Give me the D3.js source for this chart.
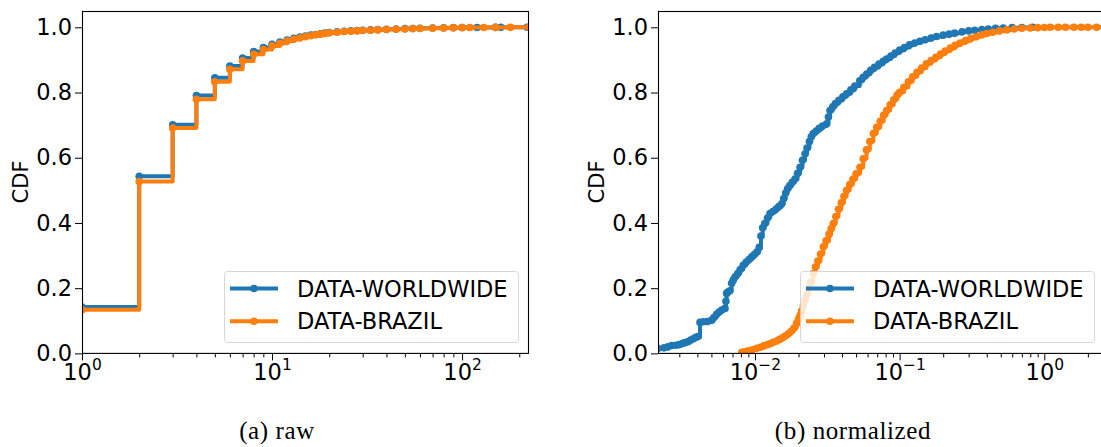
<!DOCTYPE html>
<html><head><meta charset="utf-8">
<script src="https://cdn.jsdelivr.net/npm/d3@7"></script>
<style>body{margin:0;background:#fff}svg{display:block}</style>
</head><body>
<svg id="c" width="1101" height="447"></svg>
<script>
// ---------- data ----------
const seriesNames = ["DATA-WORLDWIDE", "DATA-BRAZIL"];
const seriesColors = ["#1f77b4", "#ff7f0e"];

// (a) raw
const rawWorldX = [1,2,3,4,5,6,7,8,9,10,11,12,13,14,15,16,17,18,19,20,22,24,26,28,30,33,36,40,45,50,55,60,70,80,90,100,120,150,160,220];
const rawWorldY = [0.142,0.543,0.701,0.791,0.845,0.881,0.906,0.926,0.938,0.948,0.955,0.961,0.966,0.970,0.973,0.976,0.978,0.980,0.982,0.984,0.986,0.988,0.989,0.990,0.991,0.992,0.993,0.994,0.995,0.996,0.9965,0.997,0.998,0.9985,0.999,0.9993,0.9995,0.9997,0.9998,1.0];
const rawBrazilX = [1,2,3,4,5,6,7,8,9,10,11,12,13,14,15,16,17,18,19,20,22,24,26,28,30,33,36,40,45,50,55,60,70,80,90,100,110,130,150,180,225];
const rawBrazilY = [0.134,0.527,0.691,0.779,0.833,0.871,0.897,0.917,0.932,0.943,0.951,0.958,0.963,0.967,0.971,0.974,0.977,0.979,0.981,0.983,0.985,0.987,0.988,0.989,0.990,0.991,0.992,0.993,0.994,0.995,0.996,0.9965,0.997,0.998,0.9985,0.999,0.9993,0.9995,0.9997,0.9998,1.0];

// (b) normalized
const normWorldX = [0.00213,0.00235,0.0025,0.00266,0.00285,0.003,0.00315,0.00328,0.00345,0.0036,0.00375,0.0039,0.00405,0.00417,0.0044,0.0047,0.00502,0.0052,0.00543,0.00565,0.0059,0.00621,0.0063,0.00637,0.0065,0.0067,0.0069,0.00708,0.0073,0.0076,0.0079,0.0083,0.0087,0.0091,0.0095,0.0099,0.0103,0.0107,0.011,0.0113,0.0117,0.0122,0.0127,0.0133,0.014,0.0146,0.0153,0.0158,0.0163,0.0168,0.0174,0.0181,0.0189,0.0197,0.0205,0.0213,0.0222,0.0229,0.0238,0.0245,0.0253,0.0265,0.0278,0.0293,0.0313,0.0322,0.033,0.0345,0.036,0.038,0.0405,0.043,0.046,0.049,0.053,0.056,0.0592,0.063,0.067,0.072,0.077,0.0813,0.087,0.093,0.1,0.108,0.117,0.127,0.138,0.15,0.165,0.18,0.2,0.22,0.24,0.27,0.3,0.33,0.37,0.41,0.46,0.52,0.6,0.7,0.83];
const normWorldY = [0.015,0.017,0.020,0.024,0.025,0.027,0.030,0.033,0.036,0.041,0.045,0.049,0.052,0.095,0.097,0.098,0.102,0.110,0.120,0.127,0.133,0.138,0.160,0.184,0.188,0.192,0.215,0.225,0.235,0.245,0.257,0.270,0.280,0.288,0.296,0.303,0.311,0.325,0.360,0.385,0.398,0.415,0.429,0.435,0.443,0.450,0.459,0.475,0.492,0.505,0.515,0.525,0.535,0.552,0.571,0.592,0.612,0.630,0.650,0.664,0.674,0.682,0.690,0.697,0.704,0.725,0.745,0.756,0.766,0.776,0.787,0.796,0.808,0.820,0.836,0.847,0.857,0.868,0.877,0.887,0.896,0.903,0.912,0.921,0.930,0.938,0.946,0.952,0.957,0.962,0.967,0.972,0.976,0.979,0.982,0.986,0.989,0.991,0.993,0.995,0.997,0.998,0.999,0.9995,1.0];
const normBrazilX = [0.0081,0.0085,0.009,0.0096,0.0103,0.0109,0.0115,0.0122,0.0128,0.0134,0.0141,0.0148,0.0155,0.0162,0.017,0.0178,0.0186,0.0194,0.02,0.0205,0.021,0.0216,0.0222,0.0228,0.0235,0.0243,0.0253,0.0262,0.0272,0.0284,0.0297,0.031,0.0325,0.0336,0.0348,0.0362,0.0378,0.0395,0.0412,0.043,0.0452,0.0475,0.05,0.0532,0.056,0.059,0.0622,0.0658,0.0695,0.0735,0.0775,0.0813,0.086,0.091,0.096,0.1,0.107,0.115,0.123,0.132,0.142,0.153,0.165,0.178,0.192,0.207,0.224,0.242,0.262,0.285,0.31,0.34,0.37,0.4,0.44,0.49,0.55,0.62,0.7,0.8,0.9,1.0,1.1,1.25,1.4,1.6,1.8,2.0,2.3,2.6];
const normBrazilY = [0.003,0.005,0.008,0.011,0.016,0.019,0.023,0.027,0.030,0.034,0.038,0.043,0.048,0.053,0.060,0.068,0.078,0.092,0.105,0.117,0.130,0.145,0.163,0.180,0.198,0.218,0.245,0.265,0.283,0.305,0.327,0.345,0.365,0.382,0.398,0.420,0.442,0.462,0.482,0.500,0.518,0.534,0.551,0.571,0.597,0.624,0.650,0.674,0.693,0.712,0.730,0.745,0.762,0.778,0.792,0.801,0.816,0.833,0.848,0.862,0.875,0.888,0.898,0.908,0.918,0.927,0.936,0.945,0.952,0.959,0.966,0.972,0.977,0.981,0.985,0.989,0.992,0.995,0.997,0.998,0.999,0.9995,1.0,1.0,1.0,1.0,1.0,1.0,1.0,1.0];

// ticks
const yTickValues = [0, 0.2, 0.4, 0.6, 0.8, 1.0];
const yTickLabels = ["0.0", "0.2", "0.4", "0.6", "0.8", "1.0"];
const rawXTicks = [1, 10, 100];
const rawXExp = ["0", "1", "2"];
const normXTicks = [0.01, 0.1, 1];
const normXExp = ["\u22122", "\u22121", "0"];
const captions = ["(a) raw", "(b) normalized"];

// ---------- drawing ----------
const svg = d3.select("#c");
const TICKFONT = "DejaVu Sans, sans-serif";
const LW = 4, MR = 3.8;

function panel(cfg) {
  const g = svg.append("g");
  const x = d3.scaleLog().domain(cfg.xDomain).range([cfg.left, cfg.right]);
  const y = d3.scaleLinear().domain([0, 1.05]).range([353.4, 11]);
  const clipId = "clip" + cfg.id;
  svg.append("clipPath").attr("id", clipId).append("rect")
    .attr("x", cfg.left).attr("y", 11).attr("width", cfg.right - cfg.left).attr("height", 353.4 - 11);

  // series
  const line = d3.line().curve(d3.curveStepAfter).x(d => x(d[0])).y(d => y(d[1]));
  const plotG = g.append("g").attr("clip-path", `url(#${clipId})`);
  cfg.series.forEach((s, i) => {
    const pts = s.xs.map((v, k) => [v, s.ys[k]]);
    plotG.append("path").datum(pts).attr("d", line)
      .attr("fill", "none").attr("stroke", seriesColors[i]).attr("stroke-width", LW)
      .attr("stroke-linejoin", "round");
    plotG.selectAll(null).data(pts).join("circle")
      .attr("cx", d => x(d[0])).attr("cy", d => y(d[1])).attr("r", MR)
      .attr("fill", seriesColors[i]);
  });

  // y axis
  const ya = g.append("g").attr("transform", `translate(${cfg.left},0)`)
    .call(d3.axisLeft(y).tickValues(yTickValues).tickSize(7).tickPadding(3)
      .tickFormat((d, i) => yTickLabels[i]));
  ya.select(".domain").remove();
  ya.selectAll("text").attr("font-family", TICKFONT).attr("font-size", 22.5).attr("fill", "#000");
  ya.selectAll("line").attr("stroke", "#000");

  // x axis minor ticks
  const [d0, d1] = cfg.xDomain;
  const minor = [];
  for (let e = Math.floor(Math.log10(d0)); e <= Math.ceil(Math.log10(d1)); e++) {
    for (let k = 2; k <= 9; k++) {
      const v = k * Math.pow(10, e);
      if (v >= d0 && v <= d1) minor.push(v);
    }
  }
  const xm = g.append("g").attr("transform", `translate(0,353.4)`)
    .call(d3.axisBottom(x).tickValues(minor).tickSize(4).tickFormat(""));
  xm.select(".domain").remove();
  xm.selectAll("line").attr("stroke", "#000");

  const xa = g.append("g").attr("transform", `translate(0,353.4)`)
    .call(d3.axisBottom(x).tickValues(cfg.xTicks).tickSize(7).tickPadding(5).tickFormat(""));
  xa.select(".domain").remove();
  xa.selectAll("line").attr("stroke", "#000");
  xa.selectAll(".tick").each(function(d, i) {
    const t = d3.select(this).append("text")
      .attr("y", 26.5).attr("font-family", TICKFONT).attr("font-size", 22.5)
      .attr("fill", "#000").attr("text-anchor", "middle");
    t.append("tspan").text("10");
    t.append("tspan").attr("dy", -9.5).attr("font-size", 15.5).text(cfg.xExp[i]);
  });

  // spines
  g.append("rect").attr("x", cfg.left + 0.5).attr("y", 11.5)
    .attr("width", cfg.right - cfg.left - 1).attr("height", 353.4 - 11.5)
    .attr("fill", "none").attr("stroke", "#000").attr("stroke-width", 1.1);

  // y label
  g.append("text").attr("transform", `translate(${cfg.ylabelX},182) rotate(-90)`)
    .attr("text-anchor", "middle").attr("dy", "0.35em")
    .attr("font-family", TICKFONT).attr("font-size", 21).text("CDF");

  // legend
  const lx = cfg.legendX, ly = 271;
  const lg = g.append("g");
  lg.append("rect").attr("x", lx + 0.5).attr("y", ly + 0.5).attr("width", 294).attr("height", 71)
    .attr("rx", 3).attr("fill", "#fff").attr("fill-opacity", 0.8)
    .attr("stroke", "#cccccc").attr("stroke-opacity", 0.8).attr("stroke-width", 1);
  seriesNames.forEach((name, i) => {
    const yy = ly + 17.5 + i * 32.7;
    lg.append("line").attr("x1", lx + 6).attr("x2", lx + 54).attr("y1", yy).attr("y2", yy)
      .attr("stroke", seriesColors[i]).attr("stroke-width", LW);
    lg.append("circle").attr("cx", lx + 30).attr("cy", yy).attr("r", MR).attr("fill", seriesColors[i]);
    lg.append("text").attr("x", lx + 73).attr("y", yy + 8)
      .attr("font-family", TICKFONT).attr("font-size", 22.5).attr("fill", "#000").text(name);
  });

  // caption
  g.append("text").attr("x", cfg.captionX).attr("y", 439).attr("text-anchor", "middle")
    .attr("font-family", "Liberation Serif, serif").attr("font-size", 25)
    .attr("letter-spacing", 0.6).text(cfg.caption);
}

panel({
  id: "a", left: 82, right: 529, xDomain: [1, 225],
  xTicks: rawXTicks, xExp: rawXExp,
  series: [{xs: rawWorldX, ys: rawWorldY}, {xs: rawBrazilX, ys: rawBrazilY}],
  ylabelX: 21, legendX: 224, captionX: 277, caption: captions[0]
});
panel({
  id: "b", left: 658, right: 1106, xDomain: [0.002137, 2.669],
  xTicks: normXTicks, xExp: normXExp,
  series: [{xs: normWorldX, ys: normWorldY}, {xs: normBrazilX, ys: normBrazilY}],
  ylabelX: 597, legendX: 800, captionX: 853, caption: captions[1]
});
</script>
</body></html>
